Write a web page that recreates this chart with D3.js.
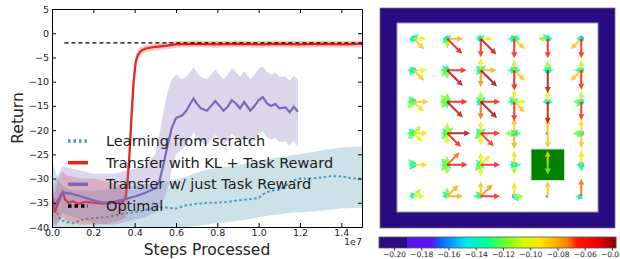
<!DOCTYPE html>
<html>
<head>
<meta charset="utf-8">
<script src="https://cdn.jsdelivr.net/npm/d3@7"></script>
<style>
  body { margin: 0; background: #fff; }
  svg { display: block; font-family: "DejaVu Sans", sans-serif; }
</style>
</head>
<body>
<svg id="chart" width="620" height="259"></svg>
<script>
// ---- learning curves (x in units of 1e7 steps) ----
const stepTicks = [0, 0.2, 0.4, 0.6, 0.8, 1.0, 1.2, 1.4];
const returnTicks = [5, 0, -5, -10, -15, -20, -25, -30, -35, -40];
const optimalReturn = -2;
const optimalFrom = 0.06;

const tealX = [0, 0.02, 0.04, 0.07, 0.1, 0.15, 0.2, 0.25, 0.3, 0.35, 0.4, 0.45, 0.5, 0.55, 0.6, 0.65, 0.7, 0.75, 0.8, 0.85, 0.9, 0.95, 1.0, 1.03, 1.06, 1.1, 1.13, 1.16, 1.2, 1.25, 1.3, 1.35, 1.4, 1.45, 1.5];
const tealY = [-33, -36.5, -38.5, -39, -39.2, -38.5, -38.2, -38, -37.7, -37.2, -37, -36.5, -36, -36, -36.2, -35.5, -35.2, -35, -35, -34.8, -34.5, -34.3, -34, -33, -32.5, -32.3, -31.5, -30.5, -30, -30, -29.8, -29.5, -29.5, -30, -30];
const tealHi = [-26.5, -29, -31, -32, -32.5, -32.5, -32.5, -32.3, -32, -31.8, -31.5, -31.2, -31, -30.6, -30.2, -29.6, -28.8, -28.2, -27.8, -27.5, -27.2, -26.8, -26.3, -26, -25.8, -25.6, -25.4, -25.2, -25, -24.6, -24.2, -23.9, -23.6, -23.5, -23.4];
const tealLo = [-41, -42, -42, -42, -42, -42, -41.5, -41.5, -41, -41, -41, -40.5, -40.5, -40.5, -40.5, -40, -39.8, -39.5, -39.2, -39, -38.7, -38.4, -38, -37.8, -37.6, -37.4, -37.2, -37, -37, -36.8, -36.6, -36.4, -36.2, -36.1, -36];

const redX = [0, 0.014, 0.025, 0.04, 0.052, 0.063, 0.08, 0.1, 0.13, 0.16, 0.2, 0.25, 0.3, 0.34, 0.355, 0.365, 0.375, 0.385, 0.395, 0.405, 0.415, 0.43, 0.45, 0.5, 0.55, 0.6, 0.7, 0.8, 0.9, 1.0, 1.1, 1.2, 1.3, 1.4, 1.5];
const redY = [-33.5, -37, -35.5, -34, -32.8, -34.3, -35, -34.7, -35.2, -34.8, -35, -35.2, -35, -35, -34, -31, -25, -17, -10, -6, -4.5, -3.7, -3.2, -2.8, -2.6, -2.3, -2.2, -2.3, -2.2, -2.3, -2.2, -2.3, -2.2, -2.3, -2.2];
const redHi = [-31, -33, -31, -29, -28.5, -29, -29.5, -29.5, -30, -30, -30, -30.5, -31, -31, -30.5, -27, -21, -13, -7, -4.5, -3.5, -2.9, -2.5, -2.1, -1.9, -1.6, -1.5, -1.6, -1.5, -1.6, -1.5, -1.6, -1.5, -1.6, -1.5];
const redLo = [-36, -40, -39.5, -38.5, -38, -38.5, -39, -39, -39.5, -39.5, -39.5, -39.5, -39, -38.5, -38, -35, -29, -21, -13, -7.5, -5.5, -4.5, -3.9, -3.5, -3.3, -3, -2.9, -3, -2.9, -3, -2.9, -3, -2.9, -3, -2.9];

const purpleX = [0, 0.02, 0.05, 0.1, 0.15, 0.2, 0.25, 0.3, 0.35, 0.4, 0.45, 0.5, 0.52, 0.54, 0.56, 0.58, 0.6, 0.63, 0.65, 0.67, 0.685, 0.7, 0.72, 0.75, 0.77, 0.79, 0.81, 0.83, 0.85, 0.87, 0.89, 0.91, 0.93, 0.96, 0.98, 1.0, 1.02, 1.04, 1.06, 1.08, 1.1, 1.13, 1.15, 1.17, 1.19];
const purpleY = [-36.5, -35, -32.8, -33.2, -33.8, -34.5, -35, -34.8, -34.3, -33.7, -33, -32, -30.5, -27, -23, -19.5, -17.5, -17, -16, -14.5, -13.5, -14.5, -15.5, -16, -15, -14, -15, -16, -15.2, -13.8, -14.5, -15.5, -14.2, -16, -15, -13.8, -13.2, -14.5, -15, -14.6, -15.5, -15.3, -16.3, -15.2, -16.2];
const purpleHi = [-32, -30, -27.5, -28, -28.5, -29, -29, -29, -28.5, -28, -27.5, -25, -21, -16, -12, -9.5, -8.5, -9.5, -9, -8, -7, -8, -9, -9.5, -8.5, -7.5, -8.5, -9.5, -8.5, -7.2, -8, -9, -7.8, -9.5, -8.5, -7.3, -6.8, -8, -8.5, -8.2, -9, -9, -9.8, -8.8, -9.5];
const purpleLo = [-40, -39, -37, -38, -38.5, -39, -39.5, -39.5, -39, -38.5, -38, -37, -36, -34.5, -32, -28, -25, -24, -23, -21.5, -20.5, -21.5, -22.5, -23, -22, -21, -22, -23, -22.2, -20.8, -21.5, -22.5, -21.2, -23, -22, -20.8, -20.2, -21.5, -22, -21.6, -22.5, -22.3, -23.3, -22.2, -23.5];

const legendLabels = ["Learning from scratch", "Transfer with KL + Task Reward", "Transfer w/ just Task Reward", "Optimal"];

// ---- gridworld values, per cell: [E, NE, N, NW, W, SW, S, SE]; null = no arrow ----
const qRow0 = [
  [-0.10, -0.13, -0.15, -0.145, -0.14, -0.14, -0.15, -0.085],
  [-0.08, -0.14, -0.15, -0.15, -0.14, -0.13, -0.115, -0.05],
  [-0.10, -0.14, -0.15, -0.14, -0.14, -0.145, -0.065, -0.045],
  [-0.13, -0.14, -0.15, -0.14, -0.13, -0.14, -0.06, -0.085],
  [-0.14, -0.15, -0.15, -0.13, -0.115, -0.15, -0.06, -0.15],
  [-0.15, -0.15, -0.15, -0.15, -0.14, -0.085, -0.06, -0.15]
];
const qRow1 = [
  [-0.095, -0.15, -0.15, -0.14, -0.13, -0.13, -0.15, -0.085],
  [-0.06, -0.15, -0.14, -0.13, -0.13, -0.12, -0.12, -0.045],
  [-0.08, -0.13, -0.10, -0.13, -0.14, -0.13, -0.075, -0.04],
  [-0.13, -0.14, -0.11, -0.14, -0.13, -0.14, -0.055, -0.085],
  [-0.135, -0.14, -0.115, -0.14, -0.14, -0.145, -0.042, -0.145],
  [-0.15, -0.15, -0.11, -0.15, -0.13, -0.085, -0.06, -0.15]
];
const qRow2 = [
  [-0.085, -0.15, -0.15, -0.125, -0.13, -0.115, -0.145, -0.09],
  [-0.055, -0.14, -0.12, -0.115, -0.125, -0.12, -0.13, -0.045],
  [-0.06, -0.13, -0.11, -0.13, -0.14, -0.135, -0.07, -0.04],
  [-0.10, -0.14, -0.10, -0.13, -0.13, -0.14, -0.06, -0.085],
  [-0.14, -0.15, -0.105, -0.15, -0.14, -0.15, -0.045, -0.15],
  [-0.15, -0.15, -0.11, -0.15, -0.12, -0.13, -0.065, -0.15]
];
const qRow3 = [
  [-0.09, -0.11, -0.15, -0.13, -0.13, -0.12, -0.15, -0.10],
  [-0.04, -0.12, -0.11, -0.13, -0.13, -0.12, -0.105, -0.06],
  [-0.06, -0.13, -0.10, -0.13, -0.14, -0.12, -0.10, -0.065],
  [-0.13, -0.14, -0.085, -0.14, -0.115, -0.14, -0.08, -0.14],
  [null, null, -0.085, null, -0.165, null, -0.085, null],
  [-0.15, -0.15, -0.09, -0.15, -0.12, -0.135, -0.085, -0.15]
];
const qRow4 = [
  [-0.09, -0.15, -0.15, -0.125, -0.14, -0.13, -0.15, -0.15],
  [-0.055, -0.07, -0.12, -0.12, -0.13, -0.12, -0.115, -0.14],
  [-0.06, -0.095, -0.10, -0.13, -0.14, -0.12, -0.105, -0.14],
  [-0.13, -0.15, -0.09, -0.14, -0.14, -0.14, -0.115, -0.15],
  [null, null, -0.09, null, -0.165, null, -0.115, null],
  [-0.15, -0.15, -0.09, -0.15, -0.14, -0.15, -0.13, -0.15]
];
const qRow5 = [
  [-0.105, -0.11, null, -0.14, -0.14, null, null, null],
  [-0.08, -0.08, -0.12, -0.13, -0.14, null, null, null],
  [-0.06, -0.075, -0.085, -0.13, -0.125, -0.15, null, null],
  [-0.115, -0.15, -0.09, -0.15, -0.165, null, null, -0.13],
  [null, null, -0.085, null, -0.165, null, null, null],
  [null, null, -0.07, -0.15, -0.135, -0.14, null, null]
];
const qRows = [qRow0, qRow1, qRow2, qRow3, qRow4, qRow5];
const dirAngles = [0, -45, -90, -135, 180, 135, 90, 45];
const goalCell = { col: 4, row: 4 };

const cbTicks = [-0.20, -0.18, -0.16, -0.14, -0.12, -0.10, -0.08, -0.06, -0.04];
const cmapStops = [-0.211, -0.1907, -0.1905, -0.172, -0.168, -0.1466, -0.132, -0.1173, -0.105, -0.0928, -0.0781, -0.0708, -0.0659, -0.05, -0.037];
const cmapColors = ["#2b0b82", "#2b0b82", "#5a14f0", "#5a14f0", "#1050ff", "#00eef0", "#00ff99", "#70ff20", "#d0ff00", "#ffe600", "#ffa000", "#ff6a00", "#ff1a00", "#f00000", "#850000"];

const svg = d3.select("#chart");

// ================= left: learning curves =================
const x = d3.scaleLinear().domain([0, 1.5]).range([52, 362]);
const y = d3.scaleLinear().domain([-40, 5]).range([227, 9]);

svg.append("defs").append("clipPath").attr("id", "plot-clip")
  .append("rect").attr("x", 52).attr("y", 9).attr("width", 310).attr("height", 218);

const plot = svg.append("g").attr("clip-path", "url(#plot-clip)");

function band(xs, hi, lo) {
  return d3.area().x((d, i) => x(xs[i])).y0((d, i) => y(lo[i])).y1((d, i) => y(hi[i]))(xs);
}
function line(xs, ys) {
  return d3.line().x((d, i) => x(xs[i])).y((d, i) => y(ys[i]))(xs);
}

plot.append("path").attr("d", band(tealX, tealHi, tealLo)).attr("fill", "#8fbccc").attr("fill-opacity", 0.45);
plot.append("path").attr("d", line(tealX, tealY)).attr("fill", "none")
  .attr("stroke", "#4c97b9").attr("stroke-width", 2).attr("stroke-dasharray", "2.5,2.5");

plot.append("path").attr("d", band(redX, redHi, redLo)).attr("fill", "#e8251b").attr("fill-opacity", 0.25);
plot.append("path").attr("d", line(redX, redY)).attr("fill", "none")
  .attr("stroke", "#e8251b").attr("stroke-width", 2.2);

plot.append("path").attr("d", band(purpleX, purpleHi, purpleLo)).attr("fill", "#8c78c4").attr("fill-opacity", 0.3);
plot.append("path").attr("d", line(purpleX, purpleY)).attr("fill", "none")
  .attr("stroke", "#7c68bb").attr("stroke-width", 2.2);

plot.append("line")
  .attr("x1", x(optimalFrom)).attr("x2", x(1.5))
  .attr("y1", y(optimalReturn)).attr("y2", y(optimalReturn))
  .attr("stroke", "#000").attr("stroke-width", 1.2).attr("stroke-dasharray", "4,3");

// axes: inward ticks on all sides
function styleAxis(g) {
  g.select(".domain").attr("stroke", "#000");
  g.selectAll(".tick line").attr("stroke", "#000");
  g.selectAll("text").attr("fill", "#222").attr("font-size", "9.5px").attr("font-family", "DejaVu Sans");
}
svg.append("g").attr("transform", "translate(0,227)")
  .call(d3.axisBottom(x).tickValues(stepTicks).tickFormat(d3.format(".1f")).tickSize(-4).tickSizeOuter(0).tickPadding(2))
  .call(styleAxis);
svg.append("g").attr("transform", "translate(0,9)")
  .call(d3.axisTop(x).tickValues(stepTicks).tickFormat("").tickSize(-4).tickSizeOuter(0))
  .call(styleAxis);
svg.append("g").attr("transform", "translate(52,0)")
  .call(d3.axisLeft(y).tickValues(returnTicks).tickFormat(d3.format("d")).tickSize(-4).tickSizeOuter(0).tickPadding(3))
  .call(styleAxis);
svg.append("g").attr("transform", "translate(362,0)")
  .call(d3.axisRight(y).tickValues(returnTicks).tickFormat("").tickSize(-4).tickSizeOuter(0))
  .call(styleAxis);

svg.append("text").attr("x", 362).attr("y", 245).attr("text-anchor", "end")
  .attr("font-size", "9.5px").attr("fill", "#222").text("1e7");
svg.append("text").attr("x", 207).attr("y", 255).attr("text-anchor", "middle")
  .attr("font-size", "15.5px").attr("fill", "#222").text("Steps Processed");
svg.append("text").attr("transform", "translate(23,118) rotate(-90)").attr("text-anchor", "middle")
  .attr("font-size", "15.5px").attr("fill", "#222").text("Return");

// legend (no frame)
const legendStyles = [
  { color: "#4c97b9", width: 3.5, dash: "2.5,3" },
  { color: "#e8251b", width: 3.5, dash: null },
  { color: "#7c68bb", width: 3.5, dash: null },
  { color: "#000", width: 3.5, dash: "3.5,3" }
];
const legendY = d3.scalePoint().domain(d3.range(4)).range([141, 206]);
const legend = svg.append("g");
legendLabels.forEach((label, i) => {
  const s = legendStyles[i];
  legend.append("line").attr("x1", 68).attr("x2", 88)
    .attr("y1", legendY(i)).attr("y2", legendY(i))
    .attr("stroke", s.color).attr("stroke-width", s.width)
    .attr("stroke-dasharray", s.dash);
  legend.append("text").attr("x", 106).attr("y", legendY(i)).attr("dy", "0.35em")
    .attr("font-size", "14.5px").attr("fill", "#222").text(label);
});

// ================= right: gridworld quiver =================
const cmap = d3.scaleLinear().domain(cmapStops).range(cmapColors).clamp(true);
const gx = d3.scaleBand().domain(d3.range(6)).range([397, 598]);
const gy = d3.scaleBand().domain(d3.range(6)).range([23, 212]);
const arrowLen = d3.scaleLinear().domain([-0.155, -0.04]).range([2.5, 23]).clamp(true);

svg.append("rect").attr("x", 380).attr("y", 8).attr("width", 235).attr("height", 220)
  .attr("fill", cmap(-0.211)).attr("stroke", "#777").attr("stroke-width", 0.8);
svg.append("rect").attr("x", gx.range()[0]).attr("y", gy.range()[0])
  .attr("width", gx.range()[1] - gx.range()[0]).attr("height", gy.range()[1] - gy.range()[0])
  .attr("fill", "#fff").attr("stroke", "#9b8fc8").attr("stroke-width", 1);
svg.append("rect").attr("x", gx(goalCell.col)).attr("y", gy(goalCell.row))
  .attr("width", gx.bandwidth()).attr("height", gy.bandwidth())
  .attr("fill", "#008000").attr("stroke", "#cfe6cf").attr("stroke-width", 1);

const arrows = [];
qRows.forEach((row, r) => row.forEach((cell, c) => cell.forEach((v, d) => {
  if (v !== null) arrows.push({ r, c, d, v });
})));
arrows.sort((a, b) => a.v - b.v);

function arrowPath(L) {
  const sw = 2.1, hl = Math.min(6, L), hw = Math.min(6, 2 + L);
  const s = L - hl;
  return `M0,${-sw / 2}L${s},${-sw / 2}L${s},${-hw / 2}L${L},0L${s},${hw / 2}L${s},${sw / 2}L0,${sw / 2}Z`;
}

svg.append("g").selectAll("path")
  .data(arrows)
  .join("path")
  .attr("transform", (a) => `translate(${gx(a.c) + gx.bandwidth() / 2},${gy(a.r) + gy.bandwidth() / 2}) rotate(${dirAngles[a.d]})`)
  .attr("d", (a) => arrowPath(arrowLen(a.v)))
  .attr("fill", (a) => cmap(a.v))
  .attr("fill-opacity", 0.8);

// colorbar
const cbX = d3.scaleLinear().domain([-0.211, -0.037]).range([379, 616]);
const cbTop = 237, cbH = 11;
svg.append("g").selectAll("rect")
  .data(d3.range(379, 616))
  .join("rect")
  .attr("x", (px) => px).attr("y", cbTop).attr("width", 1.2).attr("height", cbH)
  .attr("fill", (px) => cmap(cbX.invert(px + 0.5)));
svg.append("rect").attr("x", 379).attr("y", cbTop).attr("width", 237).attr("height", cbH)
  .attr("fill", "none").attr("stroke", "#555").attr("stroke-width", 0.8);
svg.append("g").attr("transform", `translate(0,${cbTop + cbH})`)
  .call(d3.axisBottom(cbX).tickValues(cbTicks).tickFormat(d3.format(".2f")).tickSize(2.5).tickSizeOuter(0).tickPadding(1))
  .call((g) => g.select(".domain").remove())
  .call((g) => g.selectAll(".tick line").attr("stroke", "#333"))
  .call((g) => g.selectAll("text").attr("fill", "#222").attr("font-size", "7.5px").attr("font-family", "DejaVu Sans"));
</script>
</body>
</html>
